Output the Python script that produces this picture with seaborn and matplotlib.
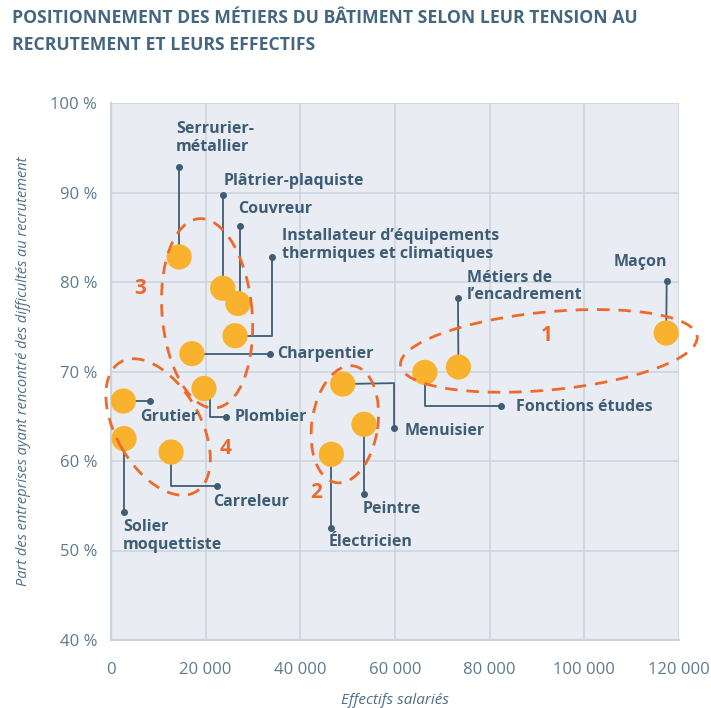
import matplotlib
matplotlib.use("Agg")
import matplotlib.pyplot as plt
import matplotlib.transforms as mtransforms
from matplotlib.patches import Ellipse
import seaborn as sns
import pandas as pd

# ---------------- data ----------------
metiers = ["Serrurier-métallier", "Plâtrier-plaquiste", "Couvreur",
           "Installateur d'équipements thermiques et climatiques", "Charpentier",
           "Plombier", "Grutier", "Solier moquettiste", "Carreleur",
           "Électricien", "Menuisier", "Peintre", "Fonctions études",
           "Métiers de l'encadrement", "Maçon"]
effectifs = [14400, 23600, 26800, 26200, 17100, 19650, 2600, 2750, 12700,
             46550, 48950, 53450, 66300, 73400, 117300]
tension = [82.8, 79.3, 77.6, 74.0, 72.0, 68.1, 66.7, 62.5, 61.0,
           60.75, 68.6, 64.1, 69.9, 70.5, 74.3]
x_ticks = [0, 20000, 40000, 60000, 80000, 100000, 120000]
x_ticklabels = ["0", "20 000", "40 000", "60 000", "80 000", "100 000", "120 000"]
y_ticks = [40, 50, 60, 70, 80, 90, 100]
y_ticklabels = ["40 %", "50 %", "60 %", "70 %", "80 %", "90 %", "100 %"]

df = pd.DataFrame({"metier": metiers, "effectifs": effectifs, "tension": tension})

# ---------------- style ----------------
BG = "#E9ECF2"
GRID = "#CBD4DE"
DOT = "#F9B22E"
ORANGE = "#EE6A2C"
TXT = "#3E5D75"
TICK = "#5D7A8F"

sns.set_theme(style="whitegrid")
plt.rcParams["font.family"] = ["Open Sans", "DejaVu Sans"]

fig = plt.figure(figsize=(7.11, 7.08), dpi=100)
ax = fig.add_axes([111/711, 1-640/708, 568/711, 537/708])
ax.set_facecolor(BG)

sns.scatterplot(data=df, x="effectifs", y="tension", ax=ax, s=330,
                color=DOT, edgecolor="none", linewidth=0, zorder=3, legend=False)

ax.set_xlim(0, 120000)
ax.set_ylim(40, 100)
ax.set_xticks(x_ticks)
ax.set_xticklabels(x_ticklabels)
ax.set_yticks(y_ticks)
ax.set_yticklabels(y_ticklabels)
ax.grid(True, color=GRID, linewidth=1.2)
for sp in ax.spines.values():
    sp.set_visible(False)
ax.spines["left"].set_visible(True)
ax.spines["bottom"].set_visible(True)
ax.spines["left"].set_color(GRID)
ax.spines["bottom"].set_color(GRID)
ax.spines["left"].set_linewidth(1.6)
ax.spines["bottom"].set_linewidth(1.6)
ax.tick_params(axis="both", length=0, labelsize=12, labelcolor=TICK)
ax.tick_params(axis="x", pad=16)
ax.tick_params(axis="y", pad=10)
ax.set_xlabel("Effectifs salariés", fontsize=11, color="#4F6E85",
              style="italic", labelpad=11)
ax.set_ylabel("Part des entreprises ayant rencontré des difficultés au recrutement",
              fontsize=10.5, color="#4F6E85", style="italic", labelpad=14)

# ---------------- leaders & labels (layout) ----------------
# each: index, waypoints after the point (data units), label pos, text, ha, va
leaders = [
    (0, [(14400, 92.9)], (13700, 96.1), "Serrurier-\nmétallier", "left", "center"),
    (1, [(23600, 89.7)], (23700, 91.3), "Plâtrier-plaquiste", "left", "center"),
    (2, [(27300, 77.6), (27300, 86.3)], (26900, 88.15), "Couvreur", "left", "center"),
    (3, [(34100, 74.0), (34100, 82.8)], (36100, 84.1),
     "Installateur d’équipements\nthermiques et climatiques", "left", "center"),
    (4, [(33600, 72.0)], (35000, 72.0), "Charpentier", "left", "center"),
    (5, [(20900, 68.1), (20900, 64.9), (24300, 64.9)], (26200, 64.9), "Plombier", "left", "center"),
    (6, [(8250, 66.7)], (6200, 64.9), "Grutier", "left", "center"),
    (7, [(2750, 54.3)], (2550, 53.5), "Solier\nmoquettiste", "left", "top"),
    (8, [(12700, 57.2), (22400, 57.2)], (21600, 55.4), "Carreleur", "left", "center"),
    (9, [(46550, 52.5)], (46000, 50.9), "Électricien", "left", "center"),
    (10, [(59800, 68.7), (59800, 63.7)], (62000, 63.35), "Menuisier", "left", "center"),
    (11, [(53450, 56.3)], (53250, 54.6), "Peintre", "left", "center"),
    (12, [(66300, 66.1), (82300, 66.1)], (85600, 66.05), "Fonctions études", "left", "center"),
    (13, [(73300, 78.25)], (75200, 79.5), "Métiers de\nl’encadrement", "left", "center"),
    (14, [(117400, 80.15)], (111800, 82.2), "Maçon", "center", "center"),
]
for i, pts, lpos, txt, ha, va in leaders:
    xs = [effectifs[i]] + [p[0] for p in pts]
    ys = [tension[i]] + [p[1] for p in pts]
    ax.plot(xs, ys, color=TXT, linewidth=1.3, zorder=2, solid_capstyle="butt")
    ax.plot([xs[-1]], [ys[-1]], "o", color=TXT, markersize=4, zorder=2)
    ax.text(lpos[0], lpos[1], txt, ha=ha, va=va, fontsize=11.5,
            fontweight="bold", color=TXT, linespacing=1.15, zorder=5)

# ---------------- group ellipses (pixel sizes, data centers) ----------------
groups = [
    ("1", (92500, 72.3), 298, 78, 5.5, (92000, 74.0)),
    ("2", (49400, 64.1), 118, 66, 81.6, (43300, 56.5)),
    ("3", (20300, 76.5), 190, 90, 95, (6200, 79.3)),
    ("4", (9950, 63.8), 150, 84, -60, (24300, 61.4)),
]
for lab, (cx, cy), w, h, ang, (lx, ly) in groups:
    tr = fig.dpi_scale_trans + mtransforms.ScaledTranslation(cx, cy, ax.transData)
    e = Ellipse((0, 0), w/100, h/100, angle=ang, transform=tr, fill=False,
                edgecolor=ORANGE, linewidth=2.0, linestyle=(0, (4.5, 3.2)),
                zorder=4, clip_on=False)
    ax.add_patch(e)
    ax.text(lx, ly, lab, color=ORANGE, fontsize=15, fontweight="bold",
            ha="center", va="center", zorder=5)

# ---------------- title ----------------
fig.text(12/711, 1-9/708,
         "POSITIONNEMENT DES MÉTIERS DU BÂTIMENT SELON LEUR TENSION AU\nRECRUTEMENT ET LEURS EFFECTIFS",
         ha="left", va="top", fontsize=12.7, fontweight="bold", color="#44667F",
         linespacing=1.65)

fig.savefig("out.png", dpi=100, facecolor="white")
